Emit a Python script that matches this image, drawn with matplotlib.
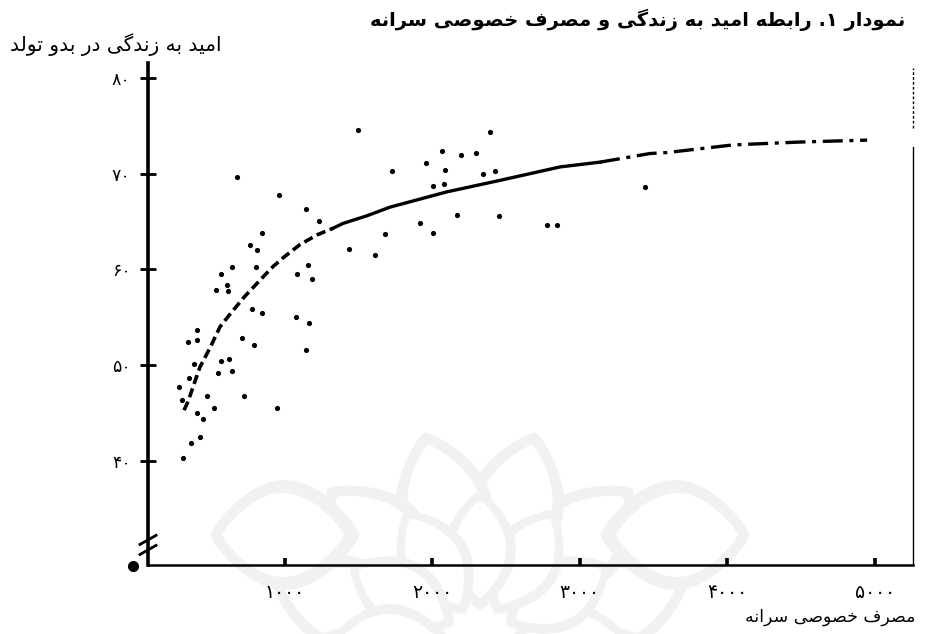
import numpy as np
import matplotlib
matplotlib.use("Agg")
import matplotlib.pyplot as plt
from matplotlib.patches import Polygon

# ---- data -------------------------------------------------------------
spending = [676, 961, 1140, 1233, 842, 763, 812, 638, 803, 1154, 566, 1079,
            1183, 604, 532, 615, 778, 844, 1075, 1163, 405, 344, 405, 706,
            788, 1140, 385, 566, 618, 543, 638, 351, 283, 301, 473, 724, 518,
            944, 405, 446, 423, 360, 306, 1497, 2389, 2065, 2194, 2294, 1955,
            1726, 2088, 2345, 2427, 2006, 2081, 1918, 2169, 2452, 2006, 1678,
            1432, 1613, 2778, 2845, 3444]
life_exp = [69.6, 67.8, 66.3, 65.1, 63.8, 62.6, 62.0, 60.3, 60.3, 60.5, 59.5,
            59.5, 59.0, 58.4, 57.8, 57.7, 55.9, 55.5, 55.0, 54.4, 53.7, 52.4,
            52.6, 52.8, 52.1, 51.6, 50.1, 50.4, 50.6, 49.2, 49.4, 48.7, 47.7,
            46.4, 46.8, 46.8, 45.5, 45.5, 45.0, 44.4, 42.5, 41.9, 40.3, 74.6,
            74.3, 72.4, 71.9, 72.2, 71.1, 70.3, 70.4, 70.0, 70.3, 68.7, 68.9,
            64.8, 65.7, 65.6, 63.8, 63.7, 62.1, 61.5, 64.6, 64.6, 68.6]

fit_x = [315, 342, 389, 423, 491, 559, 620, 674, 722, 783, 844, 919, 986,
         1102, 1217, 1326, 1393, 1556, 1712, 2099, 2459, 2866, 3137, 3476,
         3592, 4040, 4495, 4949]
fit_y = [45.3, 46.2, 48.3, 49.8, 51.8, 54.0, 55.2, 56.2, 57.1, 58.1, 59.1,
         60.3, 61.2, 62.6, 63.6, 64.3, 64.8, 65.6, 66.5, 68.1, 69.3, 70.7,
         71.2, 72.1, 72.2, 73.0, 73.3, 73.5]

x_ticks = [1000, 2000, 3000, 4000, 5000]
x_tick_labels = ["۱۰۰۰", "۲۰۰۰", "۳۰۰۰", "۴۰۰۰", "۵۰۰۰"]
y_ticks = [40, 50, 60, 70, 80]
y_tick_labels = ["۴۰", "۵۰", "۶۰", "۷۰", "۸۰"]

title_text = "نمودار ۱. رابطهٔ امید به زندگی و مصرف خصوصی سرانه"
y_label_text = "امید به زندگی در بدو تولد"
x_label_text = "مصرف خصوصی سرانه"

# ---- simple Persian shaping (presentation forms + right-to-left order) --
FORMS = {
    'ا': ('\uFE8D', '\uFE8E', None, None),
    'ب': ('\uFE8F', '\uFE90', '\uFE91', '\uFE92'),
    'ت': ('\uFE95', '\uFE96', '\uFE97', '\uFE98'),
    'خ': ('\uFEA5', '\uFEA6', '\uFEA7', '\uFEA8'),
    'د': ('\uFEA9', '\uFEAA', None, None),
    'ر': ('\uFEAD', '\uFEAE', None, None),
    'ز': ('\uFEAF', '\uFEB0', None, None),
    'س': ('\uFEB1', '\uFEB2', '\uFEB3', '\uFEB4'),
    'ص': ('\uFEB9', '\uFEBA', '\uFEBB', '\uFEBC'),
    'ط': ('\uFEC1', '\uFEC2', '\uFEC3', '\uFEC4'),
    'ف': ('\uFED1', '\uFED2', '\uFED3', '\uFED4'),
    'ل': ('\uFEDD', '\uFEDE', '\uFEDF', '\uFEE0'),
    'م': ('\uFEE1', '\uFEE2', '\uFEE3', '\uFEE4'),
    'ن': ('\uFEE5', '\uFEE6', '\uFEE7', '\uFEE8'),
    'ه': ('\uFEE9', '\uFEEA', '\uFEEB', '\uFEEC'),
    'و': ('\uFEED', '\uFEEE', None, None),
    'ی': ('\uFBFC', '\uFBFD', '\uFBFE', '\uFBFF'),
    'گ': ('\uFB92', '\uFB93', '\uFB94', '\uFB95'),
}


def shape(text):
    text = text.replace('هٔ', 'ه')
    out = []
    n = len(text)
    for i, ch in enumerate(text):
        f = FORMS.get(ch)
        if f is None:
            out.append(ch)
            continue
        prev = text[i - 1] if i > 0 else ''
        nxt = text[i + 1] if i + 1 < n else ''
        join_prev = prev in FORMS and FORMS[prev][2] is not None
        join_next = f[2] is not None and nxt in FORMS
        if join_prev and join_next:
            g = f[3]
        elif join_prev:
            g = f[1]
        elif join_next:
            g = f[2]
        else:
            g = f[0]
        out.append(g)
    return ''.join(out)[::-1]


plt.rcParams['font.family'] = ['DejaVu Sans']

W, H = 936, 634
fig = plt.figure(figsize=(W / 100, H / 100), dpi=100)
fig.patch.set_facecolor('white')

# ---- faint rosette in the background -----------------------------------
bg = fig.add_axes([0, 0, 1, 1], zorder=-5)
bg.set_xlim(0, W)
bg.set_ylim(H, 0)
bg.axis('off')


def vesica(cx, cy, ang, r0, r1, w, n=40):
    t = np.linspace(0, 1, n)
    r = r0 + (r1 - r0) * t
    hw = w * np.sin(np.pi * t) ** 0.8
    left = np.column_stack([r, hw])
    right = np.column_stack([r[::-1], -hw[::-1]])
    pts = np.vstack([left, right])
    c, s = np.cos(ang), np.sin(ang)
    rot = np.array([[c, -s], [s, c]])
    pts = pts @ rot.T
    pts[:, 0] += cx
    pts[:, 1] += cy
    return pts


cx, cy = 480, 640
gray = '#f1f1f1'
for k in range(12):
    a = np.pi / 12 * (2 * k + 1)
    bg.add_patch(Polygon(vesica(cx, cy, -a, 60, 215, 48), closed=True,
                         fc=gray, ec='none'))
    bg.add_patch(Polygon(vesica(cx, cy, -a, 74, 202, 36), closed=True,
                         fc='white', ec='none'))
for k in range(12):
    a = np.pi / 6 * k
    bg.add_patch(Polygon(vesica(cx, cy, -a, 30, 150, 36), closed=True,
                         fc=gray, ec='none'))
    bg.add_patch(Polygon(vesica(cx, cy, -a, 42, 140, 26), closed=True,
                         fc='white', ec='none'))
for side in (-1, 1):
    ang = 0 if side > 0 else np.pi
    bg.add_patch(Polygon(vesica(cx, cy - 105, -ang, 120, 270, 55),
                         closed=True, fc=gray, ec='none'))
    bg.add_patch(Polygon(vesica(cx, cy - 105, -ang, 136, 258, 42),
                         closed=True, fc='white', ec='none'))

# ---- main axes ---------------------------------------------------------
ax = fig.add_axes([148 / W, 1 - 565 / H, 765 / W, 502 / H])
ax.patch.set_alpha(0)
ax.set_xlim(70.6, 5260)
ax.set_ylim(29.14, 81.55)

ax.scatter(spending, life_exp, s=14, color='black', linewidths=0, zorder=3)

# fitted curve: dashed at the start, solid in the middle, broken at the end
ax.plot(fit_x[:16], fit_y[:16], color='black', lw=2.6,
        dashes=(2.6, 1.3), solid_capstyle='butt', zorder=2)
ax.plot(fit_x[15:23], fit_y[15:23], color='black', lw=2.4, zorder=2)
ax.plot(fit_x[22:], fit_y[22:], color='black', lw=2.4,
        dashes=(6, 2, 1.2, 2), zorder=2)

for side in ('top', 'right'):
    ax.spines[side].set_visible(False)
ax.spines['left'].set_linewidth(2.6)
ax.spines['bottom'].set_linewidth(1.8)

ax.set_xticks(x_ticks)
ax.set_xticklabels(x_tick_labels, fontsize=13.5)
ax.set_yticks(y_ticks)
ax.set_yticklabels(y_tick_labels, fontsize=12.5)
ax.tick_params(axis='y', direction='inout', length=11, width=2, pad=7)
ax.tick_params(axis='x', direction='in', length=5, width=2.6, pad=13)

# right frame edge, partly dotted
ax.plot([1, 1], [0, 0.833], transform=ax.transAxes, color='black', lw=1,
        clip_on=False)
ax.plot([1, 1], [0.87, 0.99], transform=ax.transAxes, color='black', lw=1,
        ls=(0, (2, 1.5)), clip_on=False)

# axis break marks and origin dot
dx = 8 / 765
for yc in (0.03, 0.05):
    ax.plot([-dx, dx], [yc - 0.009, yc + 0.009], transform=ax.transAxes,
            color='black', lw=2, clip_on=False)
ax.plot([-15 / 765], [-0.002], transform=ax.transAxes, marker='o',
        markersize=7, color='black', clip_on=False)

# ---- titles -----------------------------------------------------------
fig.text(905 / W, 1 - 20 / H, shape(title_text), ha='right', va='center',
         fontsize=14, fontweight='bold')
fig.text(222 / W, 1 - 45 / H, shape(y_label_text), ha='right', va='center',
         fontsize=14.5)
fig.text(915 / W, 1 - 617 / H, shape(x_label_text), ha='right', va='center',
         fontsize=12.5)

fig.savefig('out.png', dpi=100, facecolor='white')
